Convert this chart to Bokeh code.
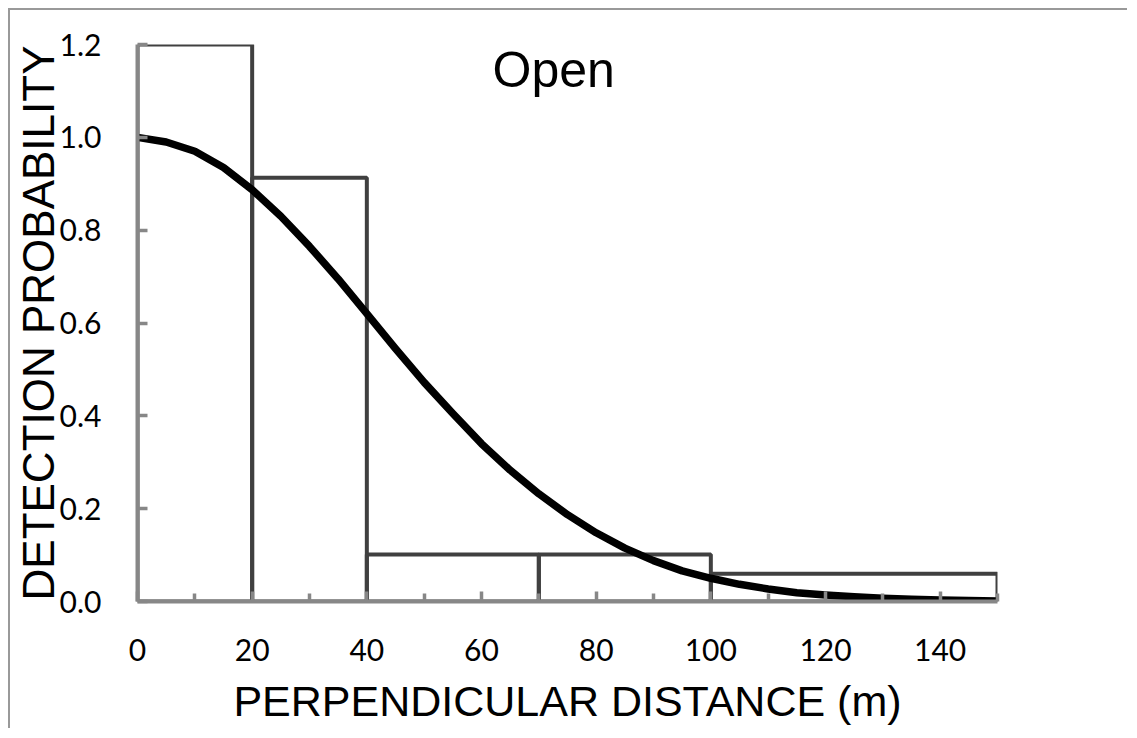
from bokeh.plotting import figure
from bokeh.models import FixedTicker, Label, NumeralTickFormatter, ColumnDataSource
from bokeh.embed import file_html
from bokeh.resources import INLINE

# Histogram bins (perpendicular distance, m) and heights (detection probability)
bin_left = [0, 20, 40, 70, 100]
bin_right = [20, 40, 70, 100, 150]
bin_height = [1.2, 0.913, 0.101, 0.101, 0.060]

# Fitted detection function
curve_x = [0, 5, 10, 15, 20, 25, 30, 35, 40, 45, 50, 55, 60, 65, 70, 75,
           80, 85, 90, 95, 100, 105, 110, 115, 120, 125, 130, 135, 140, 145, 150]
curve_y = [1.0, 0.99, 0.97, 0.935, 0.887, 0.83, 0.765, 0.695, 0.62, 0.545, 0.472,
           0.405, 0.34, 0.283, 0.232, 0.187, 0.148, 0.115, 0.088, 0.066, 0.05,
           0.037, 0.027, 0.019, 0.014, 0.01, 0.007, 0.005, 0.003, 0.002, 0.001]

x_ticks = [0, 20, 40, 60, 80, 100, 120, 140]
x_minor = [10, 30, 50, 70, 90, 110, 130, 150]
y_ticks = [0.0, 0.2, 0.4, 0.6, 0.8, 1.0, 1.2]

title_text = "Open"
x_title = "PERPENDICULAR DISTANCE (m)"
y_title = "DETECTION PROBABILITY"

p = figure(width=1119, height=720, x_range=(0, 150), y_range=(0, 1.2),
           output_backend="svg", toolbar_location=None,
           min_border_left=127, min_border_top=34,
           min_border_right=132, min_border_bottom=129)
p.styles = {"border-top": "2px solid #999999", "border-left": "2px solid #999999",
            "margin-left": "8px", "margin-top": "8px"}
p.outline_line_color = None
p.xgrid.grid_line_color = None
p.ygrid.grid_line_color = None
p.background_fill_color = "white"
p.border_fill_color = "white"

src = ColumnDataSource(dict(left=bin_left, right=bin_right, top=bin_height,
                            bottom=[0] * len(bin_left)))
p.quad(left="left", right="right", top="top", bottom="bottom", source=src,
       fill_color=None, line_color="#404040", line_width=4)

p.line(curve_x, curve_y, line_color="black", line_width=7.5, line_join="round")

# X axis
xa = p.xaxis[0]
xa.ticker = FixedTicker(ticks=x_ticks, minor_ticks=x_minor)
xa.axis_line_color = "#878787"
xa.axis_line_width = 4
xa.major_tick_line_color = "#878787"
xa.major_tick_line_width = 3.5
xa.major_tick_in = 10
xa.major_tick_out = 0
xa.minor_tick_line_color = "#878787"
xa.minor_tick_line_width = 3.5
xa.minor_tick_in = 8
xa.minor_tick_out = 0
xa.major_label_text_font = "Lato"
xa.major_label_text_font_size = "30px"
xa.major_label_text_color = "black"
xa.major_label_standoff = 37
xa.axis_label = x_title
xa.axis_label_text_font = "Liberation Sans"
xa.axis_label_text_font_style = "normal"
xa.axis_label_text_font_size = "43px"
xa.axis_label_text_color = "black"
xa.axis_label_standoff = 13

# Y axis
ya = p.yaxis[0]
ya.ticker = FixedTicker(ticks=y_ticks, minor_ticks=[])
ya.formatter = NumeralTickFormatter(format="0.0")
ya.axis_line_color = "#878787"
ya.axis_line_width = 4
ya.major_tick_line_color = "#878787"
ya.major_tick_line_width = 3.5
ya.major_tick_in = 10
ya.major_tick_out = 0
ya.minor_tick_line_color = None
ya.major_label_text_font = "Lato"
ya.major_label_text_font_size = "30px"
ya.major_label_text_color = "black"
ya.major_label_standoff = 36
ya.axis_label = y_title
ya.axis_label_text_font = "Liberation Sans"
ya.axis_label_text_font_style = "normal"
ya.axis_label_text_font_size = "44px"
ya.axis_label_text_color = "black"
ya.axis_label_standoff = -6

p.add_layout(Label(x=72.6, y=1.144, text=title_text, text_align="center",
                   text_baseline="alphabetic", text_font="Liberation Sans",
                   text_font_size="50px", text_color="black"))

open("out.html", "w").write(file_html(p, INLINE))
